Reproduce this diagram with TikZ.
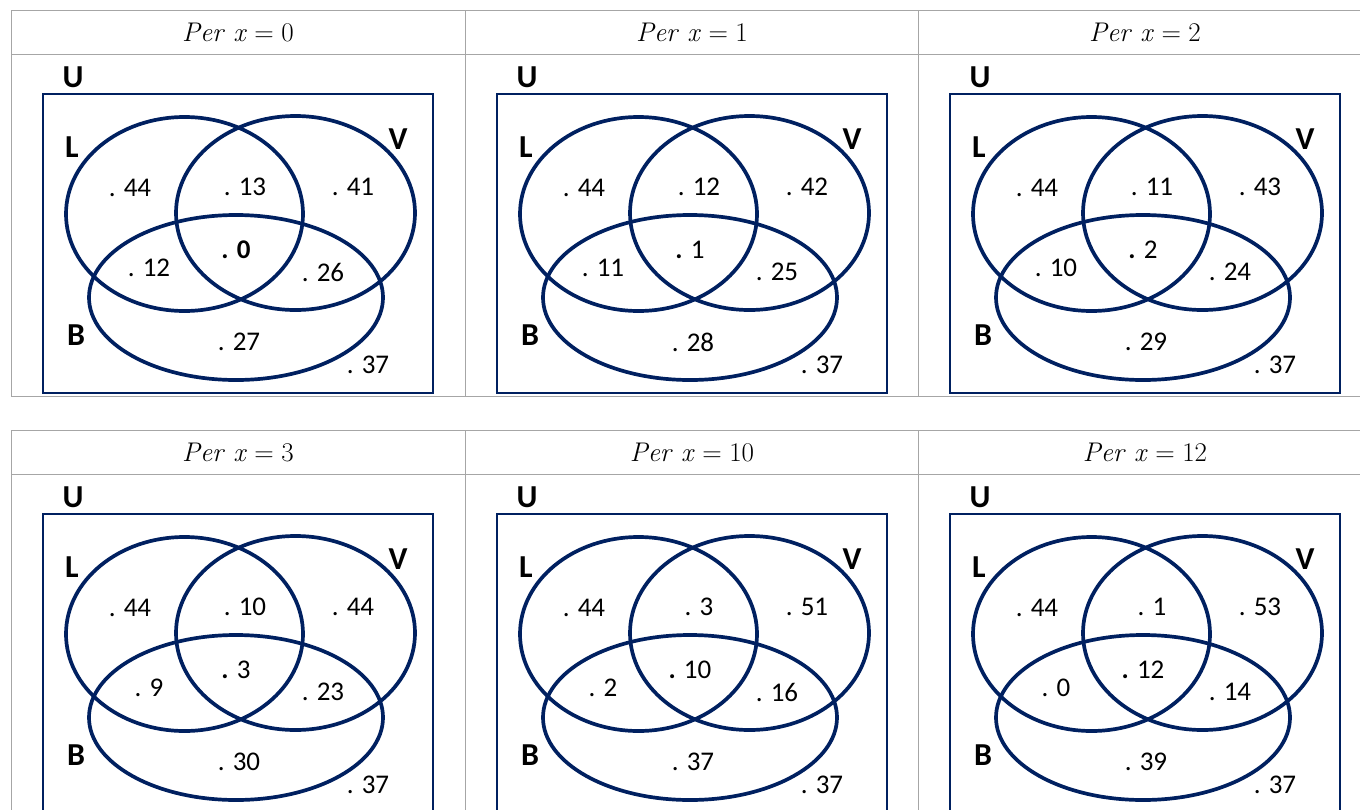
\documentclass[tikz,border=0pt]{standalone}
\usepackage[no-math]{fontspec}
\newfontfamily\calibri{Carlito}
\definecolor{vennblue}{RGB}{0,32,96}
\definecolor{gridgray}{RGB}{166,166,166}
\newcommand\pereq[1]{\textit{Per}\ \textit{x}\hspace{0.28em}=\hspace{0.28em}#1}

\begin{document}
\begin{tikzpicture}[
    x=1pt, y=-1pt,
    every node/.style={inner sep=0pt, font=\calibri\fontsize{27}{30}\selectfont},
    setname/.style={font=\calibri\bfseries\fontsize{32}{36}\selectfont},
    header/.style={font=\rmfamily\fontsize{27}{32}\selectfont},
    venn/.style={draw=vennblue, line width=3.7pt},
    universe/.style={draw=vennblue, line width=1.9pt},
    grid/.style={draw=gridgray, line width=1pt}
]
    \useasboundingbox (0,0) rectangle (1360,809);

    % Table lines
    \foreach \ry in {10,430} {
        \draw[grid] (11,\ry) -- (1360,\ry);
        \draw[grid] (11,\ry+44) -- (1360,\ry+44);
        \draw[grid] (11,\ry+386) -- (1360,\ry+386);
        \foreach \rx in {11,465,918}
            \draw[grid] (\rx,\ry) -- (\rx,\ry+386);
    }

    % One Venn diagram per cell
    \foreach \cx/\cy/\xval/\nl/\nlv/\nv/\nlb/\nc/\nvb/\nb [count=\k] in {
        11/10/0/44/13/41/12/{\textbf{. 0}}/26/27,
        465/10/1/44/12/42/11/{\textbf{.} 1}/25/28,
        918/10/2/44/11/43/10/{\textbf{.} 2}/24/29,
        11/430/3/44/10/44/9/{\textbf{.} 3}/23/30,
        465/430/10/44/3/51/2/{\textbf{.} 10}/16/37,
        918/430/12/44/1/53/0/{\textbf{.} 12}/14/39} {
    \begin{scope}[shift={(\cx,\cy)}]
        \node[header] (hdr\k) at (227,22) {\pereq{\xval}};

        \draw[universe] (32,84) rectangle (422,383);
        \node[setname] (univ\k) at (62,67) {U};

        \draw[venn] (173.5,204) ellipse [x radius=118.5pt, y radius=97pt];
        \draw[venn] (284.5,203) ellipse [x radius=119.5pt, y radius=97pt];
        \draw[venn] (225,287.5) ellipse [x radius=147pt, y radius=82.5pt];

        \node[setname] (setL\k) at (61,137) {L};
        \node[setname] (setV\k) at (387,129) {V};
        \node[setname] (setB\k) at (65,325) {B};

        % region values
        \node (onlyL\k) at (119,178) {. \nl};
        \node (lv\k) at (234,177) {. \nlv};
        \node (onlyV\k) at (342,177) {. \nv};
        \node (lb\k) at (138,258) {. \nlb};
        \node (all\k) at (225,240) {\nc};
        \node (vb\k) at (312,262) {. \nvb};
        \node (onlyB\k) at (228,332) {. \nb};
        \node (none\k) at (357,355) {. 37};
    \end{scope}
    }
\end{tikzpicture}
\end{document}
